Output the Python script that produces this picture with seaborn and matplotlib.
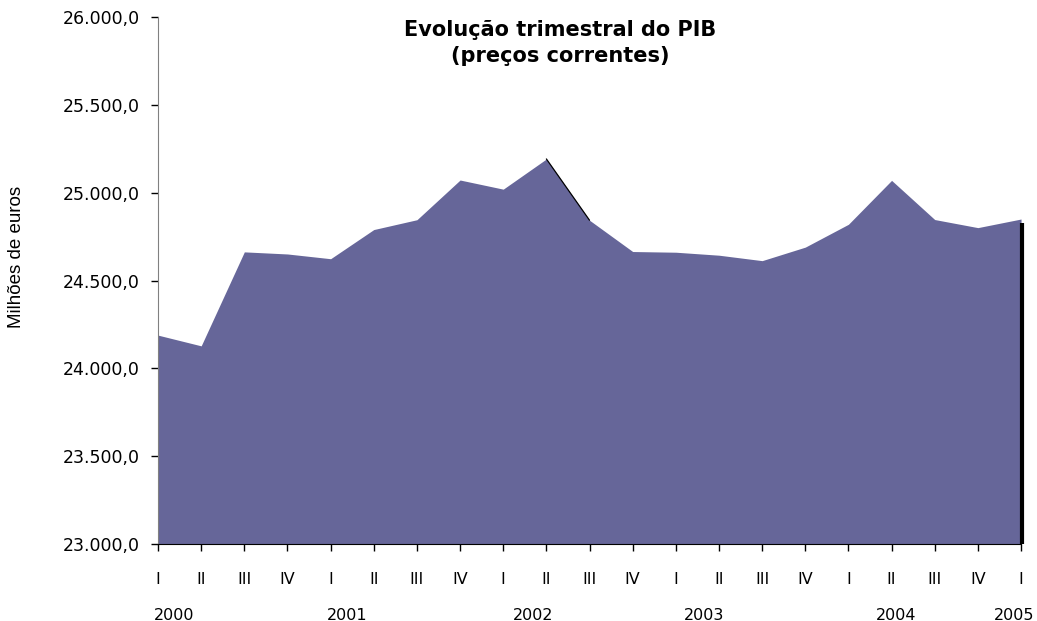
import matplotlib
matplotlib.use("Agg")
import matplotlib.pyplot as plt
import matplotlib.transforms as mtransforms
import seaborn as sns
import numpy as np

sns.set_style("white")
plt.rcParams["font.family"] = ["DejaVu Sans"]
plt.rcParams["text.color"] = "black"

# quarterly GDP, current prices (million euros)
quarters = ["I", "II", "III", "IV", "I", "II", "III", "IV", "I", "II", "III", "IV",
            "I", "II", "III", "IV", "I", "II", "III", "IV", "I"]
gdp = [24189, 24128, 24663, 24651, 24624, 24790, 24846, 25072, 25020, 25192, 24843,
       24665, 24661, 24644, 24613, 24690, 24820, 25070, 24847, 24801, 24850]
years = ["2000", "2001", "2002", "2003", "2004", "2005"]
year_pos = [0.37, 4.39, 8.70, 12.65, 17.1, 19.84]
yticks = [23000, 23500, 24000, 24500, 25000, 25500, 26000]

x = np.arange(len(gdp))

fig = plt.figure(figsize=(10.37, 6.21), dpi=100)
ax = fig.add_axes([0.1524, 0.124, 0.8322, 0.8486])

ax.fill_between(x, gdp, 23000, color="#666699", linewidth=0)
# small black edge the original shows on the 2002 II -> III segment
sns.lineplot(x=x[9:11], y=gdp[9:11], color="black", linewidth=0.9, ax=ax)
ax.vlines(x[-1] + 0.03, 23000, gdp[-1] - 20, color="black", linewidth=3,
          clip_on=False, zorder=5)

ax.set_xlim(0, len(gdp) - 1)
ax.set_ylim(23000, 26000)
ax.set_yticks(yticks)
ax.set_yticklabels([f"{v:,.1f}".replace(",", "X").replace(".", ",").replace("X", ".")
                    for v in yticks])
ax.set_xticks(x)
ax.set_xticklabels(quarters)
ax.tick_params(axis="both", direction="out", length=5, width=1, color="black",
               labelcolor="black", bottom=True, left=True)
ax.tick_params(axis="x", pad=15, labelsize=11.5)
ax.tick_params(axis="y", pad=8, labelsize=12.5)

for s in ["top", "right"]:
    ax.spines[s].set_visible(False)
ax.spines["left"].set_color("#808080")
ax.spines["bottom"].set_color("black")

trans = mtransforms.blended_transform_factory(ax.transData, fig.transFigure)
for yr, p in zip(years, year_pos):
    ax.text(p, 1 - 615 / 621, yr, transform=trans, ha="center", va="center",
            fontsize=11.5, color="black")

fig.text(17 / 1037, 1 - 257 / 621, "Milhões de euros", rotation=90, ha="center",
         va="center", fontsize=13.5, family="Liberation Sans")
fig.text(560 / 1037, 1 - 43 / 621, "Evolução trimestral do PIB\n(preços correntes)",
         ha="center", va="center", fontsize=15, fontweight="bold", linespacing=1.42)

fig.savefig("out.png", dpi=100)
